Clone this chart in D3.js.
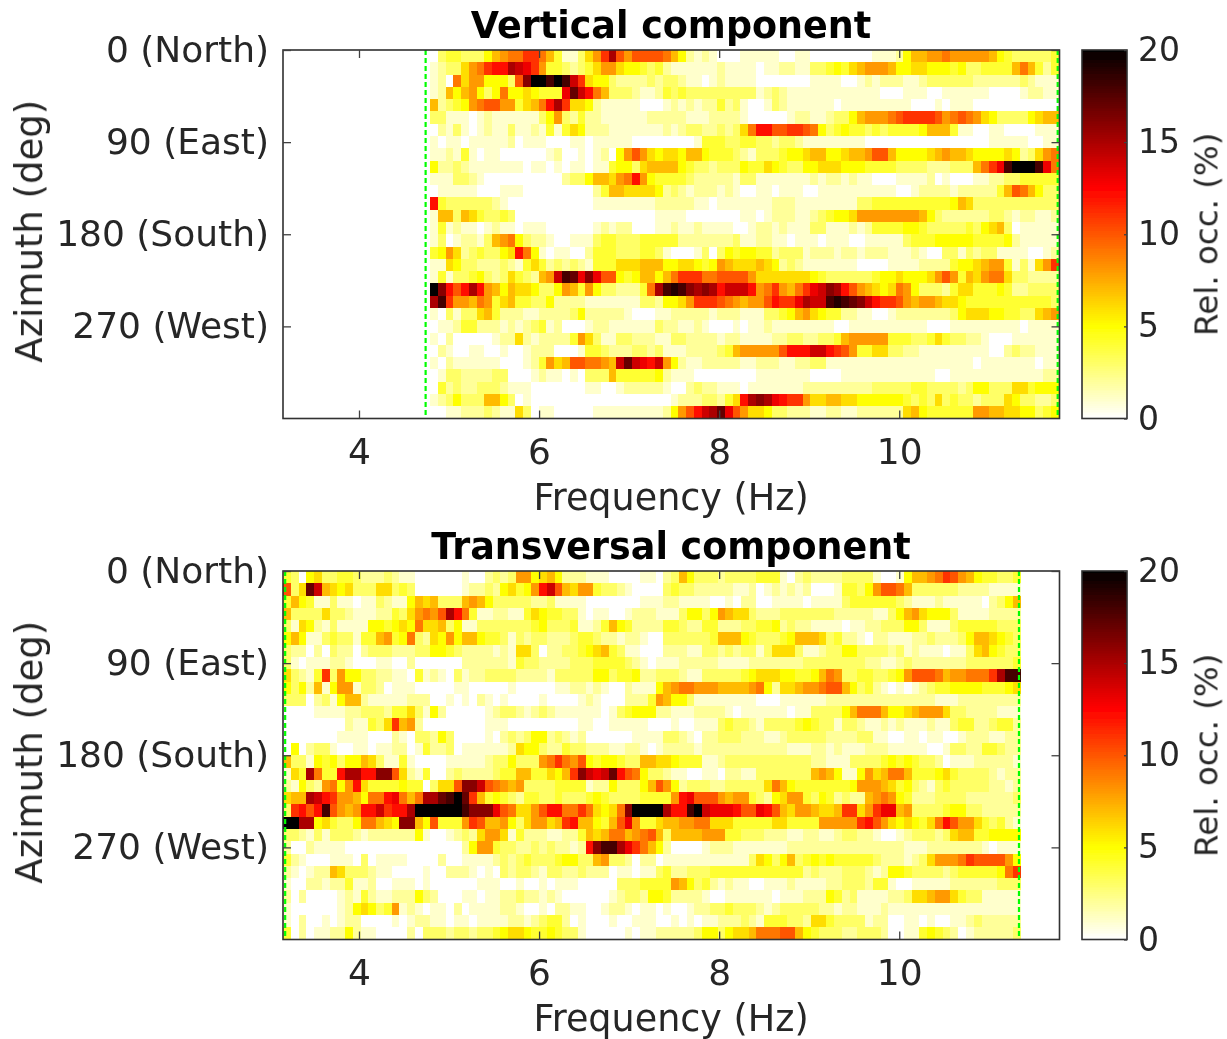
<!DOCTYPE html>
<html>
<head>
<meta charset="utf-8">
<title>Relative occurrence by azimuth and frequency</title>
<script src="https://cdn.jsdelivr.net/npm/d3@7"></script>
<style>
  html, body { margin: 0; padding: 0; background: #fff; }
  svg { display: block; }
  text { font-family: "DejaVu Sans", sans-serif; fill: #262626; }
  .domain { display: none; }
  .tick line { stroke: #404040; stroke-width: 1.3; }
</style>
</head>
<body>
<svg width="1227" height="1039">
  <defs>
    <filter id="soft" x="0" y="0" width="1227" height="1039" filterUnits="userSpaceOnUse">
      <feGaussianBlur stdDeviation="0.55"></feGaussianBlur>
    </filter>
  </defs>
</svg>
<script>
/* globals d3 */

const freqTicks = [4, 6, 8, 10];
const azimuthTicks = [0, 90, 180, 270];
const azimuthLabels = ['0 (North)', '90 (East)', '180 (South)', '270 (West)'];
const colorTicks = [0, 5, 10, 15, 20];
const azimuthStep = 12;
const freqStep = 0.0862;

// Rows run from azimuth 0 down to 348, columns upward in frequency
const verticalStart = 4.789;
const verticalLimits = [4.74, 11.76];
const verticalOcc = [
  [0,3,4,4,3,3,3,5,7,8,9,9,11,11,9,7,4,1,1,3,6,8,11,15,10,8,10,10,10,10,9,7,5,2,1,2,1,0,0,0,1,1,1,1,1,0,0,1,1,0,0,0,0,0,0,0,0,1,1,1,2,5,7,7,8,8,9,8,8,8,8,8,7,5,4,3,3,3,3,3,4],
  [1,2,3,3,6,8,9,11,12,12,15,14,13,11,8,4,4,3,2,3,4,6,8,8,6,5,5,4,3,4,2,1,1,1,1,1,1,2,1,1,1,1,0,1,1,2,2,1,1,3,3,4,5,4,6,7,8,8,8,7,5,5,6,6,5,5,5,4,5,3,3,4,4,4,4,7,9,7,4,2,4],
  [1,2,0,9,6,8,8,5,5,5,3,10,16,20,20,18,20,18,14,11,6,5,5,3,2,2,2,2,3,2,3,3,2,1,1,0,1,2,1,1,1,1,0,0,0,0,0,0,0,1,1,1,1,0,0,1,2,1,2,2,2,1,1,2,3,3,3,3,3,3,2,2,2,2,2,2,3,2,1,1,1],
  [1,2,7,5,7,8,5,3,5,9,5,5,6,5,4,4,4,13,17,14,12,9,7,3,3,3,2,1,1,2,4,3,4,3,3,3,3,3,3,3,3,3,1,2,3,2,1,1,1,1,1,1,1,1,1,1,1,1,0,0,0,1,1,1,0,0,1,1,1,1,1,1,0,0,0,0,1,2,2,1,1],
  [7,2,3,4,5,8,9,10,10,8,8,4,6,7,9,12,15,11,6,6,5,2,1,1,1,1,1,0,0,0,1,2,1,2,1,2,2,4,2,3,1,0,0,1,3,2,1,1,1,1,1,1,0,1,1,1,1,1,1,1,1,1,0,0,0,1,0,1,1,1,0,0,0,0,0,0,0,0,0,0,0],
  [3,3,1,1,1,0,1,2,1,1,1,1,1,1,3,5,8,3,2,4,2,2,1,1,1,1,1,1,2,2,2,2,2,1,1,1,2,2,2,2,1,0,0,0,0,0,1,2,2,1,1,2,3,3,5,7,8,8,8,9,10,11,11,11,11,10,8,9,10,9,8,6,5,3,3,3,3,5,6,7,7],
  [0,2,1,3,1,0,1,2,1,1,3,1,1,2,1,4,1,4,6,5,2,2,2,1,1,1,1,1,1,1,2,1,2,3,3,2,2,3,2,3,6,9,12,12,10,10,11,11,10,9,5,3,4,5,4,4,3,4,3,4,4,4,4,5,7,7,7,4,1,1,0,0,1,1,0,0,0,0,1,1,1],
  [1,0,1,1,0,1,1,1,1,1,2,0,1,1,1,0,0,0,1,1,0,1,1,1,1,1,0,0,0,0,0,0,0,0,1,4,4,4,3,3,4,4,3,3,2,3,3,2,1,1,1,1,1,1,1,1,0,0,0,0,0,0,0,0,0,0,0,0,0,0,0,0,1,1,1,1,1,0,0,1,1],
  [1,1,2,1,4,1,0,1,1,0,0,0,0,0,0,1,2,0,0,1,0,1,2,0,5,8,10,8,6,5,6,6,5,7,7,5,4,4,4,3,2,1,3,3,3,4,5,5,6,7,7,5,5,6,7,7,8,10,10,7,5,5,5,5,6,7,8,7,7,6,5,5,5,5,6,5,2,3,6,8,9],
  [5,2,2,3,2,1,1,1,1,1,1,1,0,1,1,0,1,0,1,1,0,1,1,4,5,5,3,6,7,7,7,7,5,4,3,3,2,3,3,3,5,4,4,6,5,4,3,3,5,5,6,6,6,5,5,5,4,4,4,4,3,3,3,3,2,2,2,3,3,3,7,9,11,13,18,20,20,20,18,13,9],
  [1,1,1,3,3,2,1,0,0,0,0,0,0,0,0,0,0,2,3,3,5,7,7,6,8,9,12,8,5,4,4,4,4,3,2,2,2,2,2,1,3,3,1,1,1,1,1,1,1,2,1,2,2,1,2,1,1,0,0,0,1,1,1,1,2,0,1,0,0,0,1,1,2,2,3,3,4,4,4,4,4],
  [0,1,1,1,1,1,0,0,0,1,1,1,0,0,0,0,0,0,0,0,0,2,4,7,7,6,6,6,6,5,2,3,2,1,2,2,2,1,2,1,0,0,1,1,0,1,1,1,0,0,1,1,1,1,1,1,1,1,1,1,0,0,1,2,2,2,2,1,2,2,2,2,2,4,7,10,9,7,5,3,3],
  [12,4,3,3,3,3,3,3,2,1,0,0,0,0,0,0,0,0,0,0,0,1,1,1,1,1,1,1,1,2,2,2,2,2,1,1,0,1,1,1,1,1,1,1,2,2,2,1,1,1,1,1,1,1,1,3,3,4,4,4,4,4,4,4,4,4,4,5,7,6,3,3,3,3,3,3,3,3,3,3,3],
  [1,7,7,3,7,6,4,3,3,4,3,0,0,0,0,0,0,0,0,0,0,0,0,0,0,0,0,0,0,1,1,1,1,0,0,0,0,0,0,0,1,1,0,1,2,2,2,1,1,2,3,4,5,5,6,8,8,8,8,8,8,8,8,7,5,3,2,2,2,2,2,2,3,3,2,1,2,2,1,1,2],
  [1,4,1,2,1,1,0,1,2,1,1,0,1,1,1,0,0,0,0,0,0,1,2,1,2,2,0,0,0,1,1,2,1,1,2,1,1,1,1,0,0,1,2,2,1,2,1,1,1,3,3,1,1,1,2,1,2,4,4,4,4,5,5,4,3,3,3,3,3,4,3,5,6,7,3,0,1,1,1,1,1],
  [1,3,0,1,2,2,1,3,7,8,9,5,3,2,2,1,0,0,1,1,1,3,4,4,3,3,3,4,4,4,4,4,2,2,2,2,2,2,2,3,1,1,2,2,1,1,0,1,1,1,0,1,1,1,0,0,1,1,1,1,1,3,4,4,4,5,5,5,5,5,4,4,4,4,5,2,1,1,1,1,1],
  [4,5,8,6,2,3,4,3,3,5,6,12,9,5,1,0,1,1,0,0,2,4,4,4,3,3,3,4,4,3,1,0,0,0,1,3,0,3,5,4,5,5,4,4,2,3,3,3,1,2,2,2,1,2,2,1,2,2,2,1,1,1,2,1,0,0,3,3,1,3,2,3,3,1,1,1,1,0,0,1,2],
  [1,1,6,5,3,3,2,2,2,3,2,1,4,6,4,2,3,2,3,2,1,4,4,4,6,6,6,7,7,7,5,5,6,6,5,4,5,8,7,6,6,6,7,6,5,2,3,2,1,1,1,1,1,1,1,0,0,0,0,1,1,1,1,2,2,2,2,4,5,5,6,7,8,8,4,1,3,1,6,8,11],
  [1,4,1,3,3,4,5,3,2,3,6,4,3,2,7,8,14,18,17,13,16,13,10,10,5,4,5,7,7,5,7,9,11,11,11,9,9,10,10,10,10,8,6,6,6,6,6,6,6,5,4,3,3,3,3,3,3,4,5,5,6,5,5,5,6,8,10,8,4,7,6,8,9,9,6,3,3,2,2,2,2],
  [20,16,12,10,12,15,12,8,7,5,7,6,6,5,3,3,5,8,7,4,8,5,3,3,2,2,2,4,9,15,18,19,18,16,15,16,15,12,14,14,14,12,8,9,11,8,7,9,11,13,14,16,15,12,10,8,7,6,5,6,9,8,5,3,3,3,2,4,6,6,4,4,4,5,4,2,2,3,3,3,3],
  [15,18,11,8,8,7,9,8,4,6,7,4,4,3,3,5,2,2,2,2,1,1,1,1,1,1,1,3,3,2,5,5,6,8,11,11,11,10,9,8,7,8,8,10,12,11,11,13,15,14,14,18,19,18,17,16,14,12,11,11,10,8,7,8,8,7,6,6,5,4,4,4,4,4,4,4,4,4,4,4,3],
  [1,0,3,1,3,3,6,7,4,2,2,2,1,1,2,2,2,2,3,5,2,2,2,2,2,1,0,0,0,1,1,2,2,2,2,2,1,2,2,2,1,1,1,3,3,4,5,7,8,6,5,4,4,2,2,1,1,0,0,1,2,2,2,2,2,2,2,3,5,6,6,6,5,5,4,4,3,3,6,7,8],
  [0,1,1,2,4,4,2,2,2,1,2,1,2,3,4,1,2,0,0,0,1,2,2,1,1,1,1,1,1,3,2,2,1,1,2,1,0,0,0,1,0,1,1,2,1,1,1,1,1,1,1,1,0,0,1,1,1,1,1,1,1,1,1,1,0,0,0,1,1,1,1,1,1,1,1,1,0,1,1,1,1],
  [1,0,2,0,0,0,0,0,1,2,2,6,2,1,2,2,2,2,4,8,6,3,1,1,3,3,2,2,2,1,1,3,3,2,2,2,2,1,2,2,1,1,1,1,2,2,3,3,2,2,3,3,4,7,8,8,8,8,8,4,4,4,3,3,4,6,4,3,3,2,2,1,0,0,0,1,1,1,1,1,1],
  [0,2,1,0,0,1,1,0,0,1,0,0,1,2,2,2,0,0,0,1,4,4,3,2,2,2,3,3,2,3,1,1,1,2,2,2,2,3,4,7,8,8,8,8,8,10,12,12,12,14,14,12,11,10,8,4,4,6,6,3,3,2,2,1,1,1,1,1,1,1,1,1,0,0,2,3,2,2,1,1,1],
  [1,0,2,1,1,1,1,1,1,0,0,0,1,2,4,8,6,7,10,10,9,9,8,7,14,17,14,13,12,14,8,5,2,1,1,2,2,2,2,2,1,1,2,2,2,1,1,2,2,3,3,1,1,1,1,1,1,1,1,1,1,1,1,1,1,1,1,1,1,1,0,1,1,1,1,1,1,1,0,1,1],
  [0,1,3,3,2,2,2,2,3,3,0,0,0,1,2,1,1,0,1,0,3,3,3,7,4,4,4,4,4,5,2,1,1,1,0,0,0,0,0,0,0,0,1,1,1,1,1,1,1,0,0,0,0,1,1,1,1,1,1,1,1,1,1,1,1,0,0,1,1,1,1,1,1,1,1,1,1,1,1,2,2],
  [0,4,2,3,2,2,3,3,3,2,1,1,1,0,0,0,0,0,0,0,1,1,0,0,1,2,2,2,2,2,1,0,0,2,3,2,2,1,1,1,0,1,1,1,1,1,1,1,2,2,2,2,2,2,2,2,2,3,3,3,3,3,4,4,3,3,3,3,2,3,5,5,3,3,3,6,6,4,5,5,5],
  [1,2,3,5,3,3,3,7,7,5,3,0,1,0,0,0,0,0,0,0,0,0,0,0,0,0,0,0,0,0,0,1,2,2,2,3,3,2,4,6,12,15,16,15,13,12,11,11,8,6,6,7,7,6,6,5,5,5,5,5,5,4,3,4,3,6,3,4,3,3,2,3,3,3,6,5,3,3,2,2,3],
  [0,0,1,1,2,2,2,3,2,1,1,6,3,0,1,1,0,0,0,0,0,1,1,1,1,1,1,1,1,1,2,5,8,10,12,14,15,17,13,10,8,6,6,5,3,3,2,2,2,1,1,2,2,1,1,2,2,2,2,2,2,6,7,5,4,4,4,4,4,4,8,8,7,7,6,6,5,5,3,4,5]
];

const transversalStart = 3.156;
const transversalLimits = [3.18, 11.33];
const transversalOcc = [
  [4,3,0,5,6,3,3,4,4,3,2,2,2,3,2,1,1,0,0,0,0,0,0,1,0,0,2,3,2,3,8,8,5,6,7,5,2,2,2,1,1,1,0,0,0,0,1,1,0,2,3,7,5,3,3,3,2,3,3,3,3,4,4,4,1,0,2,3,2,2,2,2,3,3,3,3,1,0,0,1,5,7,7,8,9,11,10,8,7,5,4,4,3,3,4],
  [10,3,6,17,14,7,6,5,6,3,3,3,6,6,3,4,3,0,0,0,0,0,0,1,2,2,3,2,5,6,4,5,8,12,14,10,7,6,8,8,4,3,3,2,1,0,0,0,0,3,4,3,3,2,2,2,2,2,1,1,2,0,1,2,1,2,1,2,0,0,0,1,4,4,3,5,8,10,10,9,7,3,3,3,3,3,3,2,2,2,2,1,1,1,1],
  [4,7,5,4,1,1,3,1,1,0,1,1,3,2,1,1,5,7,6,7,3,3,3,7,8,7,5,3,3,3,3,3,2,2,3,1,1,1,1,0,0,0,0,0,0,0,1,1,1,2,2,1,1,1,1,0,0,1,0,2,2,0,0,1,1,1,1,0,1,1,1,1,3,4,4,4,4,4,4,3,2,1,1,1,2,1,1,1,1,1,0,2,3,5,7],
  [7,3,3,3,3,6,3,3,2,1,1,1,2,2,4,3,6,8,9,8,10,15,12,9,4,1,1,2,2,1,1,4,6,5,4,4,3,3,1,0,1,1,0,0,1,2,2,2,1,1,1,3,5,5,3,5,8,7,6,6,3,2,2,2,3,3,3,3,3,3,3,2,2,2,2,2,1,1,3,5,7,8,6,5,5,5,3,1,1,1,1,2,2,2,2],
  [3,1,6,5,2,1,3,1,1,1,1,5,5,4,5,6,5,9,6,6,7,3,5,1,1,3,3,3,3,3,3,3,4,5,3,3,3,4,1,1,2,4,7,5,4,2,2,2,2,4,4,3,2,2,4,4,2,2,2,3,3,4,4,5,2,3,2,2,1,1,1,1,0,1,1,2,2,3,3,3,5,5,3,1,1,1,3,4,4,4,4,4,3,3,3],
  [5,7,5,1,1,3,4,3,3,1,4,4,7,8,4,5,9,3,2,6,5,8,5,7,7,5,4,4,3,1,3,2,3,3,2,2,2,3,4,4,3,2,2,1,2,2,1,0,0,3,3,3,3,3,3,4,7,7,7,5,4,3,3,3,4,5,7,7,7,6,3,4,2,2,1,0,2,2,1,1,1,2,2,3,2,2,2,3,5,7,7,6,5,4,3],
  [3,2,2,0,2,0,3,2,2,0,2,3,3,3,2,2,2,3,3,5,5,4,3,2,2,2,2,1,2,1,6,6,3,0,2,2,3,3,4,5,6,7,4,3,1,1,0,0,0,2,2,2,1,1,3,3,2,3,2,3,3,1,3,6,6,6,3,1,1,2,3,3,5,5,3,3,3,3,2,3,1,2,1,1,1,0,1,1,3,6,7,5,4,3,3],
  [3,1,0,1,1,1,2,2,1,0,0,0,1,1,0,0,2,0,0,0,0,0,0,2,2,2,2,2,2,1,4,3,3,2,2,2,2,3,3,3,4,4,4,4,3,2,1,0,1,1,1,2,2,2,2,2,1,1,1,1,2,2,2,2,2,2,2,3,3,3,3,3,3,3,3,2,2,1,1,2,3,2,2,2,2,2,2,2,3,3,3,3,3,3,4],
  [6,3,2,1,4,11,3,8,5,5,3,3,2,2,1,1,0,4,1,2,1,0,3,1,2,2,3,3,3,3,2,2,2,2,1,3,3,3,3,3,5,5,3,4,4,5,2,2,3,3,3,2,1,1,3,3,3,3,3,4,5,6,6,6,5,5,4,4,5,7,9,8,3,3,4,4,3,3,4,5,8,10,10,10,9,7,8,8,9,9,9,11,15,18,18],
  [5,3,5,2,7,1,5,8,8,1,3,3,2,0,1,1,1,0,0,0,0,0,1,1,0,0,0,0,0,1,0,0,0,0,0,1,1,2,2,1,2,1,0,0,2,1,1,1,5,7,8,9,9,8,8,8,7,7,7,7,8,9,5,2,6,6,7,8,8,9,10,10,7,5,3,4,2,1,0,1,0,1,2,3,4,4,5,5,5,5,4,4,4,5,6],
  [3,3,3,0,2,3,1,5,7,7,2,1,1,1,1,1,2,2,2,0,0,1,0,1,0,2,1,0,1,0,0,0,0,1,0,0,0,0,1,2,1,0,0,0,2,2,2,4,8,7,5,5,3,1,1,1,1,1,1,1,1,0,0,0,1,1,1,1,1,1,2,2,2,2,2,2,2,2,2,2,2,2,2,2,1,1,1,2,2,2,2,2,2,2,2],
  [0,0,0,0,1,1,1,1,2,2,3,3,3,2,4,4,6,3,1,5,2,0,0,0,0,0,1,2,3,3,2,1,2,3,2,1,1,1,1,1,1,0,1,3,4,5,5,5,2,2,1,1,1,2,2,2,2,1,0,1,1,1,1,1,1,0,1,1,3,3,3,3,5,7,9,9,9,7,5,5,6,7,8,8,8,6,3,3,2,2,2,2,1,1,1],
  [0,0,0,0,0,0,0,0,2,1,1,4,3,6,11,7,8,2,0,0,0,0,0,0,0,0,1,1,1,0,0,0,0,0,0,0,0,0,1,1,0,0,1,1,1,1,1,0,0,0,1,0,0,1,1,1,3,4,3,3,2,1,3,3,3,3,4,5,4,3,3,1,3,3,2,1,1,2,1,2,1,1,1,2,1,1,3,4,4,2,2,3,4,4,2],
  [0,0,0,0,0,0,0,1,1,1,1,0,0,0,2,1,0,3,3,2,5,3,0,0,0,0,1,0,2,3,2,3,5,5,2,3,2,1,2,0,0,0,0,0,0,1,1,1,1,3,3,2,1,0,2,2,3,3,3,2,2,2,1,1,2,3,3,3,3,3,2,2,2,2,3,3,1,1,0,0,1,1,0,1,1,0,0,1,2,2,2,1,1,2,2],
  [0,5,0,2,3,3,1,0,0,1,1,0,1,1,2,2,0,1,4,2,2,3,0,1,1,1,1,1,1,2,6,5,5,3,2,2,4,3,3,2,2,2,1,1,2,2,1,0,1,2,2,2,2,1,2,2,2,2,2,2,2,2,2,2,2,1,1,1,2,2,1,2,1,1,1,2,2,2,1,1,1,1,1,0,0,1,3,3,2,2,4,4,3,2,2],
  [7,3,3,1,5,4,5,3,5,5,7,6,3,1,1,4,1,0,0,0,0,1,1,1,1,1,2,3,3,5,3,3,3,8,9,11,9,8,10,5,4,5,5,4,3,3,7,7,6,6,5,4,4,4,1,1,2,3,3,3,3,3,3,3,3,3,3,3,2,2,1,1,1,3,3,3,3,4,5,4,5,4,3,3,2,0,1,1,1,2,2,2,2,2,1],
  [1,6,4,15,9,4,4,12,15,15,12,12,16,16,10,6,2,1,4,0,0,2,3,2,2,2,2,3,4,4,7,7,4,4,6,5,7,11,16,14,13,14,17,12,10,9,5,3,3,2,1,1,0,0,1,1,0,2,2,1,1,3,3,3,3,3,3,3,7,8,7,5,1,1,5,8,6,7,9,9,7,4,4,4,5,6,4,3,3,3,3,2,1,2,2],
  [2,1,5,3,2,8,9,5,8,12,6,4,4,4,4,5,4,4,0,3,6,6,10,16,16,14,10,9,8,7,8,3,3,3,3,4,4,4,4,1,2,2,5,3,3,3,5,7,10,8,5,2,3,3,3,2,2,3,3,3,3,3,6,9,7,5,4,4,4,4,4,4,4,5,8,8,8,7,6,4,5,3,2,1,3,4,3,3,3,3,3,2,2,1,2],
  [6,7,7,15,14,12,11,8,8,7,5,9,9,12,13,9,7,9,15,15,17,18,20,17,11,7,4,5,4,3,2,4,4,3,3,4,3,3,3,4,5,4,3,3,3,3,4,4,4,4,8,12,13,10,10,10,8,7,8,8,4,3,2,5,6,8,8,4,3,5,4,2,3,2,2,7,8,9,8,5,4,2,2,2,3,3,3,3,2,2,2,2,2,2,3],
  [3,11,12,10,12,18,10,8,7,8,12,12,14,11,12,12,15,20,20,20,20,20,20,18,16,16,16,13,10,9,6,6,8,10,12,12,9,9,11,9,6,5,6,9,16,20,20,20,20,15,12,12,18,20,14,13,13,13,12,10,10,13,12,10,7,6,8,8,7,6,6,7,11,11,6,8,11,13,13,7,8,3,3,3,3,4,5,5,3,3,2,2,2,2,2],
  [20,20,15,15,5,6,4,3,3,5,9,9,7,6,5,16,16,7,5,10,4,4,4,8,11,10,7,7,8,5,3,6,8,8,6,7,11,12,7,7,5,4,7,10,13,8,4,4,6,7,7,8,8,9,9,6,6,6,4,4,4,4,4,6,6,4,4,4,4,8,8,8,8,8,11,12,10,8,6,5,6,5,4,6,9,12,10,8,8,6,4,3,4,2,1],
  [3,3,2,1,3,1,3,3,3,2,1,2,2,2,2,2,2,5,1,0,0,1,2,3,2,6,8,8,6,1,4,2,2,2,1,1,2,2,4,7,6,7,9,9,7,8,9,10,7,3,7,7,7,7,8,8,8,4,4,3,3,3,2,2,2,1,1,2,2,1,1,2,3,3,2,2,1,0,0,1,2,3,3,3,2,3,6,7,7,4,4,5,5,5,5],
  [2,0,0,2,1,1,1,1,0,0,0,0,0,0,0,0,0,0,0,0,0,0,0,2,5,8,8,4,3,3,2,2,3,2,3,2,2,1,2,12,16,18,18,15,13,11,9,7,5,2,0,0,0,0,1,2,2,2,1,1,1,1,1,1,1,2,2,2,2,2,2,2,2,2,2,2,2,2,2,2,1,1,1,2,2,2,2,2,2,2,1,0,1,1,1],
  [4,2,1,0,0,0,1,1,1,0,3,0,1,1,1,1,0,0,0,0,2,0,0,1,1,1,1,2,3,2,3,4,3,3,3,4,5,5,3,3,7,8,3,3,2,0,2,2,0,1,1,1,1,1,1,1,1,1,1,1,3,6,5,3,5,7,3,4,5,4,5,4,4,4,4,4,3,2,2,2,1,2,3,6,8,8,8,9,11,10,10,10,10,8,5],
  [2,1,0,1,2,2,7,6,3,3,3,2,1,1,0,0,0,0,1,0,0,2,2,2,1,0,1,0,3,2,3,3,2,1,3,3,2,2,3,2,2,2,0,1,1,0,1,1,3,4,2,2,3,3,3,4,4,4,4,4,4,4,4,4,4,4,4,2,3,2,2,2,3,3,3,2,1,2,5,5,4,3,3,3,3,2,3,4,4,4,4,4,5,9,11],
  [1,0,0,2,2,1,2,2,4,1,1,2,0,0,1,1,1,0,1,0,0,0,0,0,0,1,1,1,0,0,1,0,0,1,0,1,1,1,0,0,0,0,0,3,3,3,4,4,4,4,8,7,5,3,4,2,1,2,1,1,0,0,1,1,1,2,1,1,1,1,2,2,3,3,3,2,4,4,1,0,0,1,1,1,1,1,2,2,2,2,2,2,3,3,3],
  [2,0,2,0,0,0,0,1,2,1,4,2,1,1,2,2,2,5,3,2,0,0,0,1,1,0,1,1,2,2,3,2,2,1,2,1,0,0,0,0,0,0,1,2,3,3,2,5,5,4,2,2,2,2,1,0,0,1,1,1,1,1,1,0,1,1,1,2,2,2,5,4,2,3,1,1,1,1,2,2,3,6,6,7,8,8,6,4,3,3,1,1,1,1,1],
  [1,0,0,0,0,0,0,1,2,5,6,5,3,4,8,1,2,1,0,1,1,0,2,0,1,1,1,1,2,2,1,0,0,1,0,2,2,1,1,0,0,1,2,2,1,0,1,1,0,1,0,0,1,2,2,3,3,4,3,3,3,2,1,2,3,3,3,3,3,2,2,1,2,2,1,1,1,2,1,1,1,1,1,1,1,1,1,1,1,1,1,1,1,1,1],
  [1,0,2,0,0,1,0,1,2,2,0,0,0,0,1,0,1,2,2,1,1,0,1,1,0,1,1,1,1,2,2,1,2,3,4,4,2,0,1,0,0,0,1,0,0,1,1,1,0,0,1,0,1,0,1,1,2,2,2,3,2,1,4,4,4,3,3,2,6,6,4,3,3,3,3,1,2,2,0,0,1,1,0,1,0,0,1,1,2,3,2,2,2,2,2],
  [4,0,2,0,1,1,2,2,5,2,1,1,0,0,0,0,2,0,3,3,3,2,3,3,2,3,3,4,5,6,6,5,4,4,5,4,3,3,1,0,0,0,0,0,1,0,1,1,2,2,2,2,2,3,5,5,3,5,6,6,7,9,9,9,10,10,7,5,4,3,3,3,2,2,3,3,3,2,0,0,1,1,4,5,4,3,2,0,1,2,2,2,2,2,3]
];

const svg = d3.select('svg');
const margin = { left: 283, right: 1059.5 };
const barLeft = 1082;
const barRight = 1127;

const x = d3
  .scaleLinear()
  .domain([3.156, 11.78])
  .range([margin.left, margin.right]);

// flipped "hot" colormap of the original figure
const color = d3
  .scaleLinear()
  .domain([0, 5, 12.5, 20])
  .range(['#ffffff', '#ffff00', '#ff0000', '#000000'])
  .clamp(true);

function drawPanel(title, occ, start, limits, top, bottom) {
  const y = d3.scaleLinear().domain([0, 360]).range([top, bottom]);
  const yBar = d3.scaleLinear().domain([0, 20]).range([bottom, top]);
  const g = svg.append('g').attr('filter', 'url(#soft)');

  // Heat map cells
  g
    .append('g')
    .attr('shape-rendering', 'crispEdges')
    .selectAll('g')
    .data(occ)
    .enter()
    .append('g')
    .selectAll('rect')
    .data((row, r) => row.map((value, c) => ({ value, r, c })))
    .enter()
    .append('rect')
    .attr('x', d => x(start + d.c * freqStep))
    .attr('y', d => y(d.r * azimuthStep))
    .attr('width', x(start + freqStep) - x(start) + 0.5)
    .attr('height', y(azimuthStep) - y(0) + 0.5)
    .attr('fill', d => color(d.value));

  // Green limits of the usable band
  g
    .selectAll('.limit')
    .data(limits)
    .enter()
    .append('line')
    .attr('x1', d => x(d))
    .attr('x2', d => x(d))
    .attr('y1', top)
    .attr('y2', bottom)
    .attr('stroke', '#00ff00')
    .attr('stroke-width', 2.2)
    .attr('stroke-dasharray', '5 3');

  // Frame
  g
    .append('rect')
    .attr('x', margin.left)
    .attr('y', top)
    .attr('width', margin.right - margin.left)
    .attr('height', bottom - top)
    .attr('fill', 'none')
    .attr('stroke', '#303030')
    .attr('stroke-width', 1.6);

  // Axes, ticks point inward on all four sides
  g
    .append('g')
    .attr('transform', `translate(0,${bottom})`)
    .call(d3.axisBottom(x).tickValues(freqTicks).tickFormat(d3.format('d')).tickSize(-8).tickPadding(20))
    .attr('font-size', 36)
    .attr('font-family', null);
  g
    .append('g')
    .attr('transform', `translate(0,${top})`)
    .call(d3.axisTop(x).tickValues(freqTicks).tickFormat('').tickSize(-8));
  g
    .append('g')
    .attr('transform', `translate(${margin.left},0)`)
    .call(d3.axisLeft(y).tickValues(azimuthTicks).tickFormat((d, i) => azimuthLabels[i]).tickSize(-8).tickPadding(14))
    .attr('font-size', 36)
    .attr('font-family', null);
  g
    .append('g')
    .attr('transform', `translate(${margin.right},0)`)
    .call(d3.axisRight(y).tickValues(azimuthTicks).tickFormat('').tickSize(-8));

  // Titles and labels
  g
    .append('text')
    .attr('x', 671)
    .attr('y', top - 12)
    .attr('text-anchor', 'middle')
    .attr('font-size', 36.5)
    .attr('font-weight', 'bold')
    .style('fill', '#000')
    .text(title);
  g
    .append('text')
    .attr('x', 671)
    .attr('y', bottom + 91)
    .attr('text-anchor', 'middle')
    .attr('font-size', 36.5)
    .text('Frequency (Hz)');
  g
    .append('text')
    .attr('transform', `translate(42,${(top + bottom) / 2 - 3}) rotate(-90)`)
    .attr('text-anchor', 'middle')
    .attr('font-size', 37)
    .text('Azimuth (deg)');

  // Colorbar
  const bar = g.append('g').attr('shape-rendering', 'crispEdges');
  bar
    .selectAll('rect')
    .data(d3.range(0, 20, 0.1))
    .enter()
    .append('rect')
    .attr('x', barLeft)
    .attr('y', d => yBar(d + 0.1))
    .attr('width', barRight - barLeft)
    .attr('height', yBar(0) - yBar(0.1) + 0.5)
    .attr('fill', d => color(d));
  g
    .append('rect')
    .attr('x', barLeft)
    .attr('y', top)
    .attr('width', barRight - barLeft)
    .attr('height', bottom - top)
    .attr('fill', 'none')
    .attr('stroke', '#303030')
    .attr('stroke-width', 1.6);
  g
    .append('g')
    .attr('transform', `translate(${barRight},0)`)
    .call(d3.axisRight(yBar).tickValues(colorTicks).tickSize(-3).tickPadding(11))
    .attr('font-size', 33)
    .attr('font-family', null);
  g
    .append('text')
    .attr('transform', `translate(1217.5,${(top + bottom) / 2}) rotate(-90)`)
    .attr('text-anchor', 'middle')
    .attr('font-size', 32.5)
    .text('Rel. occ. (%)');
}

drawPanel('Vertical component', verticalOcc, verticalStart, verticalLimits, 50, 418.5);
drawPanel('Transversal component', transversalOcc, transversalStart, transversalLimits, 571, 939.5);
</script>
</body>
</html>
